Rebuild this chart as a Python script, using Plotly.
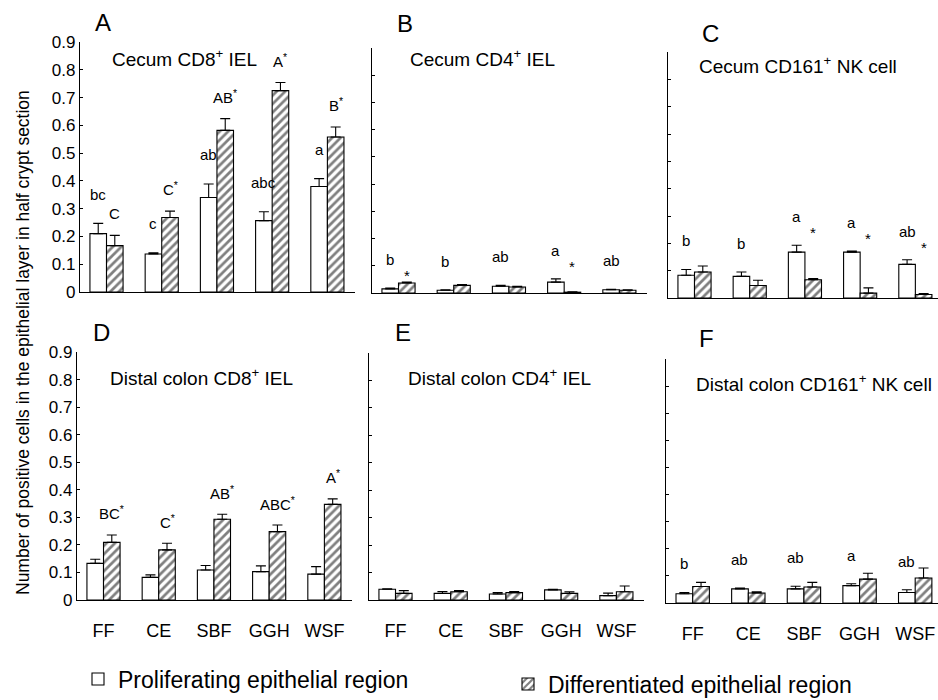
import plotly.graph_objects as go

categories = ["FF", "CE", "SBF", "GGH", "WSF"]
series_names = ["Proliferating epithelial region", "Differentiated epithelial region"]
y_ticks = [0, 0.1, 0.2, 0.3, 0.4, 0.5, 0.6, 0.7, 0.8, 0.9]
y_tick_text = ["0", "0.1", "0.2", "0.3", "0.4", "0.5", "0.6", "0.7", "0.8", "0.9"]

# Panel A: Cecum CD8+ IEL
a_prolif = [0.21, 0.137, 0.34, 0.257, 0.38]
a_prolif_err = [0.037, 0.004, 0.049, 0.032, 0.028]
a_diff = [0.167, 0.268, 0.582, 0.725, 0.558]
a_diff_err = [0.037, 0.023, 0.042, 0.029, 0.036]
a_prolif_labels = ["bc", "c", "ab", "abc", "a"]
a_diff_labels = ["C", "C*", "AB*", "A*", "B*"]

# Panel B: Cecum CD4+ IEL
b_prolif = [0.015, 0.01, 0.025, 0.04, 0.012]
b_prolif_err = [0.003, 0.002, 0.003, 0.012, 0.002]
b_diff = [0.037, 0.028, 0.022, 0.003, 0.01]
b_diff_err = [0.003, 0.003, 0.003, 0.001, 0.002]
b_prolif_labels = ["b", "b", "ab", "a", "ab"]
b_diff_labels = ["*", "", "", "*", ""]

# Panel C: Cecum CD161+ NK cell
c_prolif = [0.083, 0.079, 0.168, 0.168, 0.123]
c_prolif_err = [0.021, 0.016, 0.025, 0.004, 0.017]
c_diff = [0.095, 0.046, 0.067, 0.018, 0.013]
c_diff_err = [0.022, 0.019, 0.004, 0.019, 0.003]
c_prolif_labels = ["b", "b", "a", "a", "ab"]
c_diff_labels = ["", "", "*", "*", "*"]

# Panel D: Distal colon CD8+ IEL
d_prolif = [0.133, 0.082, 0.109, 0.103, 0.094]
d_prolif_err = [0.015, 0.009, 0.016, 0.021, 0.027]
d_diff = [0.209, 0.182, 0.293, 0.248, 0.347]
d_diff_err = [0.027, 0.024, 0.018, 0.024, 0.02]
d_prolif_labels = ["", "", "", "", ""]
d_diff_labels = ["BC*", "C*", "AB*", "ABC*", "A*"]

# Panel E: Distal colon CD4+ IEL
e_prolif = [0.039, 0.024, 0.022, 0.037, 0.016]
e_prolif_err = [0.002, 0.007, 0.005, 0.002, 0.009]
e_diff = [0.024, 0.03, 0.027, 0.024, 0.03]
e_diff_err = [0.01, 0.004, 0.004, 0.006, 0.021]
e_prolif_labels = ["", "", "", "", ""]
e_diff_labels = ["", "", "", "", ""]

# Panel F: Distal colon CD161+ NK cell
f_prolif = [0.034, 0.052, 0.052, 0.064, 0.039]
f_prolif_err = [0.005, 0.003, 0.01, 0.007, 0.01]
f_diff = [0.061, 0.037, 0.059, 0.088, 0.092]
f_diff_err = [0.015, 0.004, 0.017, 0.022, 0.037]
f_prolif_labels = ["b", "ab", "ab", "a", "ab"]
f_diff_labels = ["", "", "", "", ""]

panel_letters = ["A", "B", "C", "D", "E", "F"]
panel_titles = [
    "Cecum CD8<sup>+</sup> IEL",
    "Cecum CD4<sup>+</sup> IEL",
    "Cecum CD161<sup>+</sup> NK cell",
    "Distal colon CD8<sup>+</sup> IEL",
    "Distal colon CD4<sup>+</sup> IEL",
    "Distal colon CD161<sup>+</sup> NK cell",
]
y_title = "Number of positive cells in the epithelial layer in half crypt section"

panels = [
    (a_prolif, a_prolif_err, a_diff, a_diff_err, a_prolif_labels, a_diff_labels),
    (b_prolif, b_prolif_err, b_diff, b_diff_err, b_prolif_labels, b_diff_labels),
    (c_prolif, c_prolif_err, c_diff, c_diff_err, c_prolif_labels, c_diff_labels),
    (d_prolif, d_prolif_err, d_diff, d_diff_err, d_prolif_labels, d_diff_labels),
    (e_prolif, e_prolif_err, e_diff, e_diff_err, e_prolif_labels, e_diff_labels),
    (f_prolif, f_prolif_err, f_diff, f_diff_err, f_prolif_labels, f_diff_labels),
]

# ---- layout geometry (pixels in a 938 x 700 page) ----
W, H = 938, 700
# (left, right, top(0.9), bottom(0)) per panel
boxes = [
    (80, 355, 42, 292),
    (372, 647, 48, 293),
    (668, 938, 52, 298),
    (77, 352, 352, 600),
    (369, 644, 353, 600),
    (666, 938, 359, 603),
]
letter_pos = [(103, 23), (405, 24), (710, 33), (101, 332), (403, 332), (706, 338)]
title_pos = [(110, 58), (408, 58), (697, 65), (108, 377), (406, 377), (694, 383)]

FONT = "Liberation Sans, Arial, Helvetica, sans-serif"

fig = go.Figure()
layout = dict(
    width=W, height=H, autosize=False,
    margin=dict(l=0, r=0, t=0, b=0, autoexpand=False),
    paper_bgcolor="white", plot_bgcolor="white",
    barmode="group", bargap=0.4, bargroupgap=0,
    font=dict(family=FONT, color="black"),
    showlegend=True,
)
annotations = []

for i, (pv, pe, dv, de, pl, dl) in enumerate(panels):
    n = i + 1
    xa = "x" if n == 1 else f"x{n}"
    ya = "y" if n == 1 else f"y{n}"
    left, right, top, bottom = boxes[i]
    fig.add_trace(go.Bar(
        x=categories, y=pv, name=series_names[0], legend="legend",
        showlegend=(i == 0), xaxis=xa, yaxis=ya,
        marker=dict(color="white", line=dict(color="black", width=1.1)),
        error_y=dict(type="data", array=pe, arrayminus=[0] * len(pe), symmetric=False,
                     color="black", thickness=1.1, width=5),
    ))
    fig.add_trace(go.Bar(
        x=categories, y=dv, name=series_names[1], legend="legend2",
        showlegend=(i == 0), xaxis=xa, yaxis=ya,
        marker=dict(color="white", line=dict(color="black", width=1.1),
                    pattern=dict(shape="/", fgcolor="black", bgcolor="white",
                                 size=6, solidity=0.45)),
        error_y=dict(type="data", array=de, arrayminus=[0] * len(de), symmetric=False,
                     color="black", thickness=1.1, width=5),
    ))
    right_range = 4.5 if (right - left) >= 275 else 4.41
    xkey = "xaxis" if n == 1 else f"xaxis{n}"
    ykey = "yaxis" if n == 1 else f"yaxis{n}"
    bottom_row = i >= 3
    layout[xkey] = dict(
        domain=[left / W, right / W], anchor=ya, type="category",
        range=[-0.48, right_range], showline=True, linecolor="black", linewidth=1.2,
        ticks="", showgrid=False, zeroline=False,
        showticklabels=bottom_row, ticklabelstandoff=14,
        tickfont=dict(family=FONT, size=18, color="black"),
    )
    layout[ykey] = dict(
        domain=[1 - bottom / H, 1 - top / H], anchor=xa,
        range=[0, 0.9], tickvals=y_ticks, ticktext=y_tick_text,
        showline=True, linecolor="black", linewidth=1.2,
        ticks="inside", ticklen=3, tickcolor="black",
        showgrid=False, zeroline=False,
        showticklabels=(i % 3 == 0),
        tickfont=dict(family=FONT, size=17, color="black"),
    )
    # panel letter and subtitle
    lx, ly = letter_pos[i]
    annotations.append(dict(text=panel_letters[i], x=lx / W, y=1 - ly / H, xref="paper", yref="paper",
                            showarrow=False, xanchor="center", yanchor="middle",
                            font=dict(size=24, family=FONT, color="black")))
    tx, ty = title_pos[i]
    annotations.append(dict(text=panel_titles[i], x=tx / W, y=1 - ty / H, xref="paper", yref="paper",
                            showarrow=False, xanchor="left", yanchor="middle",
                            font=dict(size=19, family=FONT, color="black")))
    # significance letters
    for k in range(len(categories)):
        wy = pv[k] + pe[k] + 0.105
        if pl[k]:
            annotations.append(dict(text=pl[k].replace("*", "<sup>*</sup>"), x=k - 0.15, y=wy,
                                    xref=xa, yref=ya, showarrow=False,
                                    xanchor="center", yanchor="middle",
                                    font=dict(size=15, family=FONT, color="black")))
        if dl[k]:
            if dl[k] == "*":
                hy = wy - 0.06
                txt = "*"
            else:
                hy = dv[k] + de[k] + 0.08
                txt = dl[k].replace("*", "<sup>*</sup>")
            annotations.append(dict(text=txt, x=k + 0.15, y=hy,
                                    xref=xa, yref=ya, showarrow=False,
                                    xanchor="center", yanchor="middle",
                                    font=dict(size=15, family=FONT, color="black")))

annotations.append(dict(text=y_title, x=23 / W, y=1 - 343 / H, xref="paper", yref="paper",
                        showarrow=False, textangle=-90, xanchor="center", yanchor="middle",
                        font=dict(size=17.5, family=FONT, color="black")))

layout["annotations"] = annotations
legend_common = dict(
    orientation="h", xanchor="left", yanchor="middle",
    font=dict(size=23, family=FONT, color="black"),
    bgcolor="rgba(0,0,0,0)", borderwidth=0,
)
layout["legend"] = dict(x=78 / W, y=1 - 679 / H, **legend_common)
layout["legend2"] = dict(x=508 / W, y=1 - 684 / H, **legend_common)
fig.update_layout(**layout)
fig.write_html(
    "out.html",
    config={"displayModeBar": False},
    post_script="document.body.style.margin='0px';document.body.style.overflow='hidden';",
)
